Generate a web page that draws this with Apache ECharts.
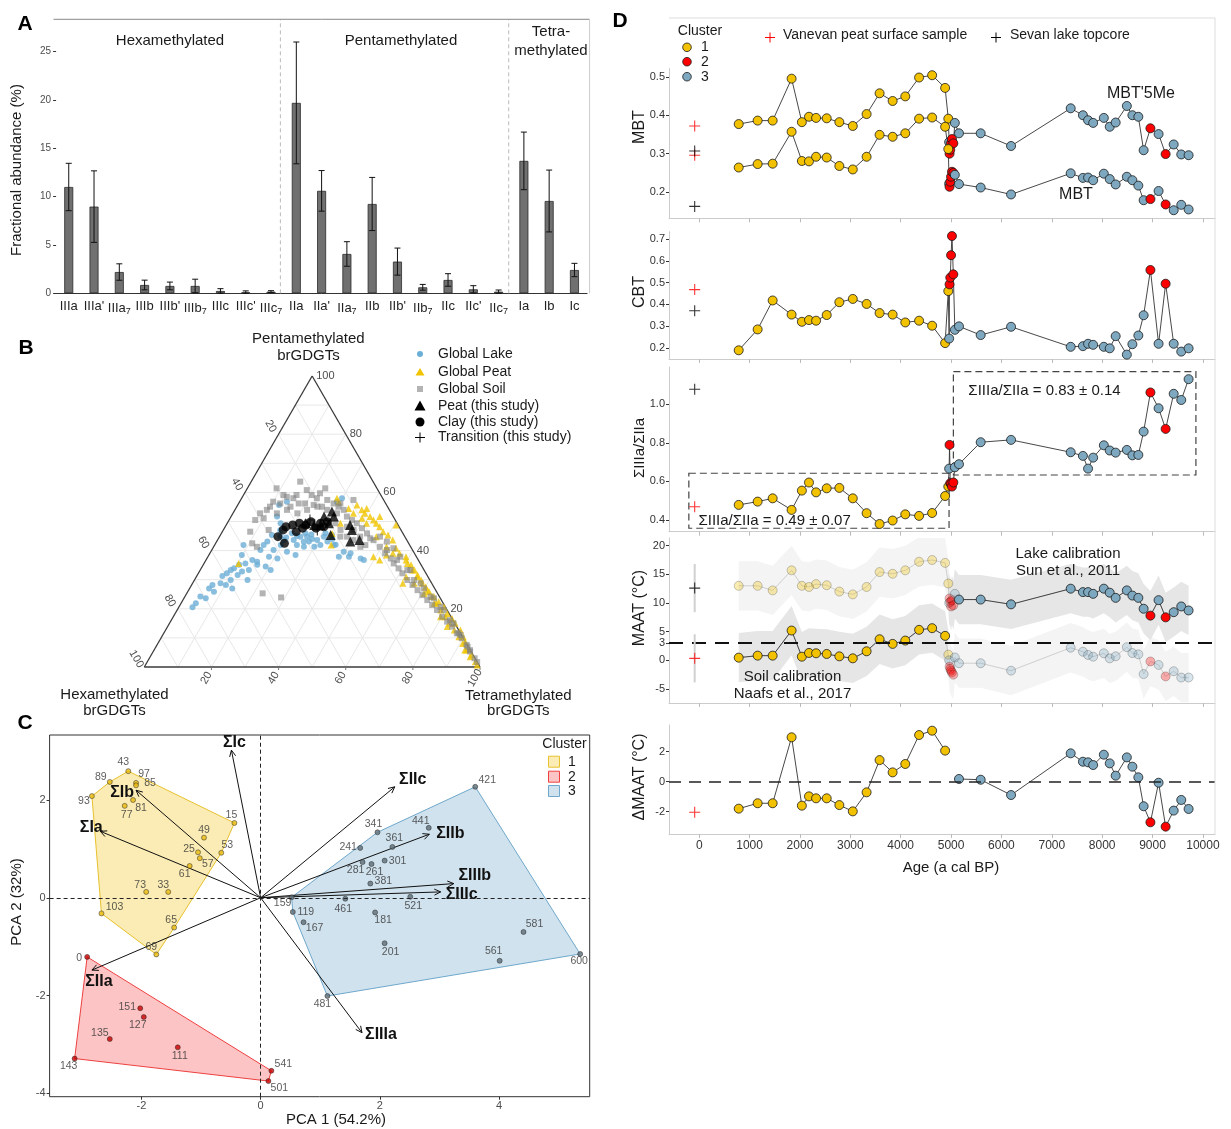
<!DOCTYPE html>
<html>
<head>
<meta charset="utf-8">
<script src="https://cdn.jsdelivr.net/npm/echarts@6.0.0/dist/echarts.min.js"></script>
<style>html,body{margin:0;padding:0;background:#fff;}#chart{width:1231px;height:1129px;}</style>
</head>
<body>
<div id="chart"></div>
<script>
const FONT = "'Liberation Sans', Arial, Helvetica, sans-serif";

// ================= Panel A data =================
const aCategories = ['IIIa',"IIIa'",'IIIa₇','IIIb',"IIIb'",'IIIb₇','IIIc',"IIIc'",'IIIc₇','IIa',"IIa'",'IIa₇','IIb',"IIb'",'IIb₇','IIc',"IIc'",'IIc₇','Ia','Ib','Ic'];
const aMeans = [11.0, 8.97, 2.2, 0.86, 0.76, 0.76, 0.24, 0.1, 0.17, 19.7, 10.6, 4.07, 9.24, 3.28, 0.62, 1.38, 0.41, 0.17, 13.7, 9.55, 2.41];
const aSD    = [2.45, 3.7, 0.85, 0.5, 0.4, 0.7, 0.24, 0.15, 0.1, 6.3, 2.1, 1.27, 2.75, 1.4, 0.3, 0.65, 0.38, 0.17, 2.98, 3.2, 0.69];
const aYTicks = [0, 5, 10, 15, 20, 25];
const aSeparators = [8.87, 17.9];
const A_YMAX = 28.35;

// ================= Panel B data (ternary: [tetra %, penta %]) =================
const bLake = [[4.1,20.5],[4.4,21.9],[4.6,24.2],[5.8,27],[6.2,28.2],[7.6,31.3],[10.2,28.2],[10.8,29.9],[12.7,27],[9.1,33.3],[9.8,33.9],[10.7,35.1],[12.7,32.8],[12.3,35.6],[14.5,33.3],[13.8,36.8],[15.5,36.2],[14.5,40.2],[14.6,41.9],[18.9,34.5],[18.2,37.9],[18.4,40.2],[21,37.3],[19.7,41.9],[19.8,43.6],[22.7,39.6],[25.8,38.5],[24.5,41.9],[26.9,41.3],[27.5,43.1],[30,41.3],[29.7,43.6],[31.5,41.9],[33,43.1],[35.5,41.9],[39,37.9],[39.6,39.6],[42,37.9],[41.9,39.1],[45.8,37.3],[47,36.8],[29.9,58],[29,56.8],[13.7,51.7],[15.9,49.4],[12.3,55.7],[14.1,56.8],[22.7,43.6],[24.1,44.8],[26.1,44.8],[31.1,44.8],[33.2,45.4],[8.6,41.9],[9.8,38.5],[16.1,35.1],[21,33.3],[15.8,29.9],[7.8,25.9],[6.5,23.6],[8.3,28.8],[8.5,32.2],[12,31.6],[15.1,43.1],[15.3,45.4],[21,46],[23,45],[25,46],[27,45.5],[28,44],[26,43],[31,46],[34,44],[36,42],[20,44.5],[17,47],[18,45]];
const bPeat = [[10.3,35.6],[28.4,58],[29.5,56.8],[35.5,55.7],[37.8,54],[39.3,52.8],[41.4,51.7],[43,50.5],[44.4,49.4],[46,48.2],[47.9,46.5],[49.9,45.4],[52.2,43.6],[50.6,48.8],[44.3,51.7],[39,54.5],[49.3,37.9],[51.7,36.8],[52.9,38.5],[54.6,40.8],[62.6,28.8],[56.5,39.1],[59.6,36.8],[61.9,35.1],[63.8,33.3],[65.6,31.6],[67.5,29.9],[70,27.6],[71.9,25.9],[74.2,24.2],[76.5,22.4],[78.9,20.7],[81,18.4],[83.3,16.7],[85.1,15],[87.8,12.7],[89.8,10.4],[91.2,8.7],[93.3,6.4],[95.4,4.1],[97.7,1.8],[98.8,0.7],[60.6,35.6],[63.3,33.3],[65.8,31],[68.4,28.8],[71.1,26.4],[73.6,24.2],[76,21.9],[78.5,19.6],[81,17.3],[83.5,15],[86,12.7],[88.5,10.4],[90.8,8.1],[93,5.8],[51.5,41.3],[54.5,39.1],[59,37.9],[46.7,44.8],[41.5,49.4],[39.3,51.1],[35.9,52.8],[33.6,54.5],[62.5,31],[66,28.8],[70.7,25.3],[75.4,21.9],[79.6,17.3],[83.3,13.9],[92.6,5.8],[95.3,3.5],[34.7,41.9],[33.7,49.4],[33,45.9]];
const bSoil = [[8.7,61.4],[14.6,63.7],[23.2,61.4],[33.6,57.4],[30.3,56.2],[8.1,52.8],[7.8,50.5],[8.3,46.5],[12.9,41.3],[22.6,25.3],[28.8,23.9],[9.9,55.1],[12.4,56.2],[13.2,58.5],[15.4,58],[15.8,59.1],[18,60.8],[20.3,59.1],[22.4,58],[22.5,59.7],[25.8,57.4],[28.3,56.2],[30.3,55.1],[32.4,54],[34.5,51.7],[36.6,50.5],[38.6,49.4],[41,47.7],[43.4,45.9],[45.2,44.2],[44.9,41.9],[43.7,41.3],[40.5,43.6],[38,44.8],[34.9,47.1],[32.2,49.4],[16,55.1],[17.9,56.2],[19.8,56.2],[10,51.1],[13.5,47.1],[10.9,42.5],[10,56.8],[11.9,59.1],[22.6,55.7],[25.4,55.1],[9.5,54],[13.1,52.8],[15.5,54],[19.2,52.8],[21.5,54],[24,55.1],[27.5,54],[31,52.8],[36.3,48.2],[38.8,47.1],[36,44.8],[41.9,44.8],[46.5,43.6],[49.5,41.3],[52.2,39.1],[54.8,37.3],[56.5,35.6],[58.8,33.9],[60.8,32.2],[63.4,29.9],[65.8,28.2],[68.2,26.4],[70.5,24.7],[72.8,23],[75.1,21.3],[77.4,19.6],[80.1,17.3],[82.4,15.6],[84.7,13.9],[87.3,11.6],[89.6,9.9],[92.2,7.6],[94.4,5.3],[96.9,3],[47.8,44.8],[50.7,43.1],[53.8,40.8],[57.3,37.9],[62.6,33.3],[67.9,28.8],[73.2,24.2],[77.9,20.7],[83,16.1],[87.8,11.6],[92.8,7],[52.2,40.2],[56.9,36.8],[61.7,33.3],[65.4,29.9],[69.8,27],[74.5,23.6],[79.4,19.6],[84.6,15],[88.7,11],[94.1,5.8],[98.3,1.7]];
const bStudyPeat = [[29.2,53.4],[27.7,51.7],[30.6,51.7],[30.3,49.4],[28.1,48.8],[36.9,48.8],[38.3,47.1],[32.8,45.4],[39.8,43.1],[42.3,43.6],[26.2,48.8],[23.4,49.4]];
const bStudyClay = [[17.4,44.8],[17.8,47.1],[20.5,42.5],[18.1,48.2],[19.8,48.8],[22,46.5],[21.5,49.4],[23.7,48.8],[24.7,49.9],[27.3,47.7],[27.8,49.4],[29.6,49.9],[29.4,48.2],[23.3,47.7]];
const bStudyTransition = [[24.1,50.5],[28,47.1]];
const bTicks = [20, 40, 60, 80, 100];

// ================= Panel C data (PCA) =================
const cNames = ['43','89','97','85','93','81','77','15','49','53','25','57','61','73','33','103','65','69',
  '0','151','127','135','111','143','541','501',
  '421','341','441','361','241','301','281','261','381','159','461','521','119','167','181','201','581','561','600','481'];
const cX = [-2.22,-2.53,-2.09,-2.09,-2.83,-2.14,-2.28,-0.44,-0.95,-0.66,-1.05,-1.02,-1.19,-1.92,-1.55,-2.67,-1.45,-1.75,
  -2.91,-2.02,-1.96,-2.53,-1.39,-3.12,0.18,0.13,
  3.60,1.96,2.82,2.21,1.67,2.08,1.71,1.86,1.84,0.52,1.42,2.51,0.54,0.72,1.92,2.08,4.41,4.01,5.36,1.12];
const cY = [2.59,2.37,2.35,2.30,2.08,2.00,1.88,1.53,1.23,0.92,0.93,0.81,0.65,0.12,0.12,-0.32,-0.61,-1.16,
  -1.21,-2.26,-2.44,-2.89,-3.06,-3.29,-3.54,-3.75,
  2.27,1.34,1.43,1.04,1.02,0.76,0.73,0.69,0.29,0.01,-0.02,0.02,-0.29,-0.50,-0.30,-0.93,-0.70,-1.29,-1.15,-2.01];
const cCluster = [1,1,1,1,1,1,1,1,1,1,1,1,1,1,1,1,1,1, 2,2,2,2,2,2,2,2, 3,3,3,3,3,3,3,3,3,3,3,3,3,3,3,3,3,3,3,3];
const cVarNames = ['ΣIc','ΣIIc','ΣIb','ΣIa','ΣIIb','ΣIIIb','ΣIIIc','ΣIIa','ΣIIIa'];
const cVarX = [-0.49, 2.25, -2.09, -2.69, 2.83, 3.24, 3.02, -2.83, 1.70];
const cVarY = [3.02, 2.27, 2.20, 1.36, 1.30, 0.29, 0.12, -1.48, -2.76];
const cTicksX = [-2, 0, 2, 4];
const cTicksY = [-4, -2, 0, 2];

// ================= Panel D data (down-core) =================
const dAges = [784,1160,1458,1834,2038,2179,2320,2531,2782,3049,3323,3581,3840,4091,4365,4624,4882,4945,4962,4970,4984,5000,5018,5045,5075,5157,5588,6191,7375,7618,7720,7821,8033,8150,8268,8490,8600,8718,8823,8958,9120,9260,9420,9570,9716];
const dCluster = [1,1,1,1,1,1,1,1,1,1,1,1,1,1,1,1,1, 1, 3, 2,2,2,2,2, 3, 3, 3,3, 3,3,3,3,3,3,3,3,3,3,3, 2, 3, 2, 3,3,3];
const dTransition = [0,0,0,0,0,0,0,0,0,0,0,0,0,0,0,0,0, 1,1,1,1,1,1,1,1, 0,0,0,0,0,0,0,0,0,0,0,0,0,0,0,0,0,0,0,0];
const dMBT5Me = [0.377,0.386,0.386,0.495,0.382,0.396,0.393,0.392,0.382,0.372,0.403,0.457,0.437,0.449,0.498,0.504,0.471, 0.391, 0.330, 0.300,0.310,0.327,0.338,0.327, 0.380, 0.353, 0.353,0.320, 0.418,0.400,0.387,0.380,0.393,0.370,0.381,0.424,0.400,0.396,0.309, 0.366, 0.351, 0.299, 0.324,0.298,0.296];
const dMBT = [0.264,0.273,0.274,0.357,0.281,0.280,0.292,0.290,0.268,0.259,0.292,0.349,0.344,0.353,0.391,0.394,0.370, 0.312, 0.222, 0.214,0.227,0.240,0.253,0.250, 0.245, 0.221, 0.212,0.194, 0.249,0.237,0.238,0.231,0.248,0.234,0.220,0.240,0.231,0.217,0.179, 0.182, 0.203, 0.168, 0.153,0.167,0.155];
const dCBT = [0.189,0.285,0.418,0.353,0.320,0.328,0.325,0.351,0.410,0.425,0.402,0.360,0.353,0.317,0.325,0.302,0.222, 0.461, 0.243, 0.492,0.523,0.626,0.714,0.538, 0.283, 0.299, 0.259,0.297, 0.205,0.208,0.219,0.214,0.205,0.198,0.254,0.169,0.217,0.257,0.350, 0.558, 0.219, 0.495, 0.219,0.183,0.198];
const dRatio = [0.478,0.495,0.512,0.452,0.552,0.594,0.543,0.564,0.566,0.512,0.435,0.379,0.397,0.429,0.421,0.436,0.524, 0.573, 0.666, 0.789,0.590,0.587,0.573,0.594, 0.673, 0.689, 0.803,0.815, 0.751,0.732,0.666,0.723,0.787,0.760,0.749,0.763,0.735,0.737,0.858, 1.061, 0.979, 0.872, 1.054,1.022,1.130];
const dMaatSoil = [0.47,0.82,0.82,5.2,0.64,1.29,1.23,1.11,0.70,0.35,1.58,3.68,2.87,3.45,5.32,5.61,4.27, 1.0, 0.0, -1.1,-1.5,-1.8,-2.1,-2.5, 0.5, -0.5, -0.5,-1.8, 2.2,1.5,0.94,0.64,1.23,0.35,0.70,2.3,1.27,1.05,-2.4, -0.2, -0.8, -2.8, -1.9,-3.0,-3.0];
const dMaatLake = [13.0,13.0,12.2,15.7,13.0,12.8,13.3,13.1,12.0,11.5,12.8,15.4,15.1,15.7,17.2,17.5,17.0, 13.4, 10.0, 10.8,10.2,9.4,10.5,9.6, 11.6, 10.6, 10.6,9.77, 12.5,11.9,11.9,11.6,12.5,11.8,10.9,12.2,11.3,10.9,9.0, 7.8, 10.5, 7.5, 8.4,9.4,8.7];
const dDeltaMaat = [-1.8,-1.44,-1.44,2.96,-1.6,-0.98,-1.11,-1.11,-1.56,-1.98,-0.71,1.44,0.62,1.18,3.11,3.4,2.07, null,null,null,null,null,null,null,null, 0.18, 0.13,-0.89, 1.89,1.33,1.29,1.11,1.8,1.22,0.4,1.62,1.0,0.29,-1.64, -2.71, -0.07, -3.0, -1.93,-1.22,-1.82];
const dSoilErr = 4.3;
const dLakeErr = 4.3;
const refAge = -90;
const vanevanMBT5Me = 0.372, vanevanMBT = 0.296, vanevanCBT = 0.468, vanevanRatio = 0.468, vanevanMAAT = 0.35, vanevanDMAAT = -2.04;
const sevanMBT5Me = 0.307, sevanMBT = 0.163, sevanCBT = 0.371, sevanRatio = 1.078, sevanMAAT = 12.6;
const refMaatErr = 4.2;
const ratioBoxX0 = [-206, 5046], ratioBoxX1 = [4960, 9861];
const ratioBoxY0 = [0.357, 0.633], ratioBoxY1 = [0.642, 1.169];
const dXTicks = [0,1000,2000,3000,4000,5000,6000,7000,8000,9000,10000];

// ================= helpers =================
const D_COL = {1:'#F2C200', 2:'#FF0000', 3:'#7DA8BF'};
const C_PT = {1:'#E9B90E', 2:'#C80000', 3:'#5E6E78'};
const C_FILL = {1:'rgba(240,200,40,0.35)', 2:'rgba(245,70,70,0.32)', 3:'rgba(110,165,200,0.32)'};
const C_STROKE = {1:'#E8C12E', 2:'#EE4040', 3:'#6FA8CC'};
const PLUS = 'path://M4.5,0L5.5,0L5.5,4.5L10,4.5L10,5.5L5.5,5.5L5.5,10L4.5,10L4.5,5.5L0,5.5L0,4.5L4.5,4.5Z';
const cLabelOffset = {'43':[-5,-9],'89':[-9,-5],'97':[8,-9],'85':[14,-2],'93':[-8,5],'81':[8,8],'77':[2,9],'15':[-3,-8],'49':[0,-8],'53':[6,-8],'25':[-9,-3],'57':[8,6],'61':[-5,8],'73':[-6,-7],'33':[-5,-7],'103':[13,-6],'65':[-3,-7],'69':[-5,-7],'0':[-8,1],'151':[-13,-1],'127':[-6,8],'135':[-10,-6],'111':[2,9],'143':[-6,8],'541':[12,-7],'501':[11,7],'421':[12,-7],'341':[-4,-8],'441':[-8,-7],'361':[2,-9],'241':[-12,-1],'301':[13,0],'281':[-7,8],'261':[3,8],'381':[13,-2],'159':[-9,6],'461':[-2,10],'521':[3,9],'119':[13,0],'167':[11,6],'181':[8,8],'201':[6,9],'581':[11,-8],'561':[-6,-10],'600':[-1,7],'481':[-5,8]};
const cVarLabelOffset = {'ΣIc':[3,-8],'ΣIIc':[18,-7],'ΣIb':[-14,2],'ΣIa':[-9,-4],'ΣIIb':[21,-1],'ΣIIIb':[21,-8],'ΣIIIc':[21,3],'ΣIIa':[7,11],'ΣIIIa':[19,2]};

function tern(tp){ return [tp[0]/100 + tp[1]/200, tp[1]/100]; }
function convexHull(points){
  const p = points.slice().sort((a,b)=>a[0]-b[0]||a[1]-b[1]);
  const cross=(o,a,b)=>(a[0]-o[0])*(b[1]-o[1])-(a[1]-o[1])*(b[0]-o[0]);
  const lower=[]; for(const q of p){ while(lower.length>=2 && cross(lower[lower.length-2], lower[lower.length-1], q)<=0) lower.pop(); lower.push(q); }
  const upper=[]; for(let i=p.length-1;i>=0;i--){ const q=p[i]; while(upper.length>=2 && cross(upper[upper.length-2], upper[upper.length-1], q)<=0) upper.pop(); upper.push(q); }
  upper.pop(); lower.pop(); return lower.concat(upper);
}
function txt(text, x, y, rot, align, size, color, weight){
  return {type:'text', x, y, rotation: rot||0, silent:true,
    style:{text, fill: color||'#4d4d4d', fontSize: size||11, fontFamily: FONT, fontWeight: weight||'normal',
      align: align||'center', verticalAlign:'middle', textAlign: align||'center', textVerticalAlign:'middle'}};
}

// ================= grids =================
const gridBase = {containLabel:false, outerBoundsMode:'none', show:false};
const grids = [
  {left:56.1, top:19.3, width:531, height:274},        // A
  {left:144.3, top:376, width:335.7, height:291},      // B
  {left:49.6, top:735, width:540.1, height:361.7, show:true, borderColor:'#333', borderWidth:1, backgroundColor:'transparent'}, // C
  {left:669, top:68.3, width:546, height:150},         // D1
  {left:669, top:231.7, width:546, height:127.3},      // D2
  {left:669, top:367, width:546, height:164.7},        // D3
  {left:669, top:538, width:546, height:165},          // D4
  {left:669, top:725, width:546, height:109}           // D5
].map(g => Object.assign({}, gridBase, g));

// ================= axes =================
function dX(gi, labels){
  return {gridIndex:gi, type:'value', min:-600, max:10240, splitLine:{show:false},
    axisLine:{show:true, onZero:false, lineStyle:{color:'#cccccc', width:1}},
    axisTick:{show:true, customValues:dXTicks, length:4, lineStyle:{color:'#bbbbbb'}},
    axisLabel:{show:labels, customValues:dXTicks, color:'#333', fontSize:12, margin:6, fontFamily:FONT,
      formatter: v => String(Math.round(v))}};
}
function dY(gi, min, max, ticks, dec){
  return {gridIndex:gi, type:'value', min, max, splitLine:{show:false},
    axisLine:{show:true, onZero:false, lineStyle:{color:'#cccccc', width:1}},
    axisTick:{show:true, customValues:ticks, length:3, lineStyle:{color:'#333'}},
    axisLabel:{customValues:ticks, color:'#333', fontSize:11, margin:4, fontFamily:FONT,
      formatter: v => dec ? Number(v).toFixed(dec) : String(v)}};
}
const xAxes = [
  {gridIndex:0, type:'category', data:aCategories, boundaryGap:true,
    axisLine:{show:true, onZero:false, lineStyle:{color:'#333', width:1}}, axisTick:{show:false},
    axisLabel:{interval:0, color:'#222', fontSize:13, margin:7, fontFamily:FONT,
      formatter: v => v.indexOf('₇')>=0 ? v.replace('₇','') + '{s|7}' : v,
      rich:{s:{fontSize:9, color:'#222', fontFamily:FONT, padding:[7,0,0,0]}}}},
  {gridIndex:0, type:'value', min:0, max:21, show:false},
  {gridIndex:1, type:'value', min:0, max:1, show:false},
  {gridIndex:2, type:'value', min:-3.54, max:5.52, splitLine:{show:false},
    axisLine:{show:false, onZero:false},
    axisTick:{show:true, customValues:cTicksX, length:3, lineStyle:{color:'#333'}},
    axisLabel:{customValues:cTicksX, color:'#4d4d4d', fontSize:11, margin:4, fontFamily:FONT}},
  dX(3,false), dX(4,false), dX(5,false), dX(6,false), dX(7,true)
];
const yAxes = [
  {gridIndex:0, type:'value', min:0, max:A_YMAX, splitLine:{show:false},
    axisLine:{show:false, onZero:false},
    axisTick:{show:true, customValues:aYTicks, length:3, lineStyle:{color:'#333'}},
    axisLabel:{customValues:aYTicks, color:'#4d4d4d', fontSize:10, margin:5, fontFamily:FONT}},
  {gridIndex:1, type:'value', min:0, max:1, show:false},
  {gridIndex:2, type:'value', min:-4.07, max:3.33, splitLine:{show:false},
    axisLine:{show:false, onZero:false},
    axisTick:{show:true, customValues:cTicksY, length:3, lineStyle:{color:'#333'}},
    axisLabel:{customValues:cTicksY, color:'#4d4d4d', fontSize:11, margin:4, fontFamily:FONT}},
  dY(3, 0.132, 0.522, [0.2,0.3,0.4,0.5], 1),
  dY(4, 0.149, 0.734, [0.2,0.3,0.4,0.5,0.6,0.7], 1),
  dY(5, 0.339, 1.193, [0.4,0.6,0.8,1.0], 1),
  dY(6, -7.44, 21.34, [-5,0,3,5,10,15,20], 0),
  dY(7, -3.49, 3.78, [-2,0,2], 0)
];

// ================= series =================
const series = [];

// ---- A ----
series.push({type:'bar', xAxisIndex:0, yAxisIndex:0, data:aMeans, barWidth:9, silent:true,
  itemStyle:{color:'#707070', borderColor:'#2b2b2b', borderWidth:0.8}, z:2});
series.push({type:'custom', xAxisIndex:0, yAxisIndex:0, silent:true, z:3,
  data: aMeans.map((m,i)=>[i, m, aSD[i]]), encode:{x:0, y:1},
  renderItem:(params, api)=>{
    const i=api.value(0), m=api.value(1), s=api.value(2);
    const top=api.coord([i, m+s]); const bot=api.coord([i, Math.max(0, m-s)]);
    const w=3; const st={stroke:'#111', lineWidth:1};
    return {type:'group', children:[
      {type:'line', shape:{x1:top[0],y1:top[1],x2:bot[0],y2:bot[1]}, style:st},
      {type:'line', shape:{x1:top[0]-w,y1:top[1],x2:top[0]+w,y2:top[1]}, style:st},
      {type:'line', shape:{x1:bot[0]-w,y1:bot[1],x2:bot[0]+w,y2:bot[1]}, style:st}]};
  }});
series.push({type:'custom', xAxisIndex:1, yAxisIndex:0, silent:true, z:1,
  data: aSeparators.map(v=>[v, 0]),
  renderItem:(params, api)=>{
    const a=api.coord([api.value(0), 0]); const b=api.coord([api.value(0), A_YMAX]);
    return {type:'line', shape:{x1:a[0],y1:a[1],x2:b[0],y2:b[1]}, style:{stroke:'#bbbbbb', lineWidth:1, lineDash:[4,3]}};
  }});

// ---- B (ternary) ----
series.push({type:'custom', xAxisIndex:2, yAxisIndex:1, silent:true, z:1, data:[[0,0]],
  renderItem:(params, api)=>{
    const ch=[]; const C=p=>api.coord(p);
    const line=(a,b,st)=>ch.push({type:'line', shape:{x1:a[0],y1:a[1],x2:b[0],y2:b[1]}, style:st});
    const gst={stroke:'#e8e8e8', lineWidth:1};
    for(let k=1;k<10;k++){ const f=k/10;
      line(C([f/2,f]), C([1-f/2,f]), gst);
      line(C([f,0]), C([f+(1-f)/2,1-f]), gst);
      line(C([1-f,0]), C([(1-f)/2,1-f]), gst);
    }
    const bst={stroke:'#3a3a3a', lineWidth:1.3};
    line(C([0,0]),C([1,0]),bst); line(C([1,0]),C([0.5,1]),bst); line(C([0.5,1]),C([0,0]),bst);
    bTicks.forEach(t=>{ const f=t/100;
      const pb=C([f,0]); ch.push(txt(String(t), pb[0]-5, pb[1]+11, Math.PI/3, 'center'));
      ch.push({type:'line', shape:{x1:pb[0],y1:pb[1],x2:pb[0],y2:pb[1]+3}, style:{stroke:'#777', lineWidth:1}});
      const pl=C([(1-f)/2,1-f]); ch.push(txt(String(t), pl[0]-8, pl[1]-8, -Math.PI/3, 'center'));
      const pr=C([1-f/2,f]); ch.push(txt(String(t), pr[0]+4, pr[1], 0, 'left'));
    });
    return {type:'group', children:ch};
  }});
series.push({type:'scatter', xAxisIndex:2, yAxisIndex:1, silent:true, z:2, data:bLake.map(tern), symbol:'circle', symbolSize:6, itemStyle:{color:'#6BAED6'}});
series.push({type:'scatter', xAxisIndex:2, yAxisIndex:1, silent:true, z:2, data:bPeat.map(tern), symbol:'triangle', symbolSize:7, itemStyle:{color:'#F0C400'}});
series.push({type:'scatter', xAxisIndex:2, yAxisIndex:1, silent:true, z:2, data:bSoil.map(tern), symbol:'rect', symbolSize:6, itemStyle:{color:'#808080', opacity:0.6}});
series.push({type:'scatter', xAxisIndex:2, yAxisIndex:1, silent:true, z:3, data:bStudyPeat.map(tern), symbol:'triangle', symbolSize:10, itemStyle:{color:'#000'}});
series.push({type:'scatter', xAxisIndex:2, yAxisIndex:1, silent:true, z:3, data:bStudyClay.map(tern), symbol:'circle', symbolSize:9, itemStyle:{color:'#000'}});
series.push({type:'scatter', xAxisIndex:2, yAxisIndex:1, silent:true, z:3, data:bStudyTransition.map(tern), symbol:PLUS, symbolSize:11, itemStyle:{color:'#000'}});

// ---- C (PCA) ----
series.push({type:'custom', xAxisIndex:3, yAxisIndex:2, silent:true, z:1, data:[[1,0],[2,0],[3,0]],
  renderItem:(params, api)=>{
    const cl=api.value(0); const pts=[];
    cX.forEach((x,i)=>{ if(cCluster[i]===cl) pts.push([x, cY[i]]); });
    const hull=convexHull(pts).map(p=>api.coord(p));
    return {type:'polygon', shape:{points:hull}, style:{fill:C_FILL[cl], stroke:C_STROKE[cl], lineWidth:1}};
  }});
series.push({type:'line', xAxisIndex:3, yAxisIndex:2, silent:true, z:2, data:[[0,0]], showSymbol:false, symbol:'none', lineStyle:{opacity:0},
  markLine:{silent:true, symbol:'none', animation:false, label:{show:false}, lineStyle:{type:[4,3], color:'#222', width:1}, data:[{xAxis:0},{yAxis:0}]}});
series.push({type:'custom', xAxisIndex:3, yAxisIndex:2, silent:true, z:3, data: cVarX.map((x,i)=>[x, cVarY[i]]),
  renderItem:(params, api)=>{
    const o=api.coord([0,0]); const t=api.coord([api.value(0), api.value(1)]);
    const ang=Math.atan2(t[1]-o[1], t[0]-o[0]); const L=7, a=Math.PI/7;
    const p1=[t[0]-L*Math.cos(ang-a), t[1]-L*Math.sin(ang-a)];
    const p2=[t[0]-L*Math.cos(ang+a), t[1]-L*Math.sin(ang+a)];
    const name=cVarNames[params.dataIndex]; const off=cVarLabelOffset[name]||[0,0];
    return {type:'group', children:[
      {type:'line', shape:{x1:o[0],y1:o[1],x2:t[0],y2:t[1]}, style:{stroke:'#111', lineWidth:1}},
      {type:'polyline', shape:{points:[p1,t,p2]}, style:{stroke:'#111', lineWidth:1, fill:null}},
      txt(name, t[0]+off[0], t[1]+off[1], 0, 'center', 16, '#111', 'bold')]};
  }});
series.push({type:'scatter', xAxisIndex:3, yAxisIndex:2, silent:true, z:4, symbolSize:5,
  data: cNames.map((n,i)=>({value:[cX[i], cY[i]], name:n, itemStyle:{color:C_PT[cCluster[i]]}, label:{offset:cLabelOffset[n]||[0,-8]}})),
  itemStyle:{borderColor:'#222', borderWidth:0.6},
  label:{show:true, position:'inside', formatter:p=>p.name, color:'#333', fontSize:10.5, fontFamily:FONT}});

// ---- D ----
function dPts(vals, keep){ const out=[]; dAges.forEach((a,i)=>{ if(vals[i]!=null && (!keep||keep(i))) out.push([a, vals[i], dCluster[i]]); }); return out; }
function dLineData(vals, keep){ return dAges.map((a,i)=>[a, (vals[i]!=null && (!keep||keep(i))) ? vals[i] : '-']); }
function dLine(xi, yi, vals, keep, color, z){ return {type:'line', xAxisIndex:xi, yAxisIndex:yi, data:dLineData(vals, keep), showSymbol:false, symbol:'none', connectNulls:false, silent:true, z:z||3, lineStyle:{color:color||'#333', width:0.9}}; }
function dScatter(xi, yi, vals, keep, opacity, z){ return {type:'scatter', xAxisIndex:xi, yAxisIndex:yi, data:dPts(vals, keep), symbolSize:9, silent:true, z:z||4,
  itemStyle:{color:p=>D_COL[p.data[2]], borderColor:'#1a1a1a', borderWidth:0.8, opacity:opacity==null?1:opacity}}; }
function dCross(xi, yi, val, color){ return {type:'scatter', xAxisIndex:xi, yAxisIndex:yi, data:[[refAge, val]], symbol:PLUS, symbolSize:11, silent:true, z:6, itemStyle:{color}}; }
function band(i0, i1, vals, err, color){
  const pts=[]; for(let i=i0;i<=i1;i++) pts.push([dAges[i], vals[i]-err, vals[i]+err]);
  return {type:'custom', xAxisIndex:7, yAxisIndex:6, silent:true, clip:true, z:1, data:[[pts[0][0], pts[0][1]]],
    renderItem:(params, api)=>{
      const up=pts.map(p=>api.coord([p[0],p[2]])); const lo=pts.map(p=>api.coord([p[0],p[1]])).reverse();
      return {type:'polygon', shape:{points:up.concat(lo)}, style:{fill:color}};
    }};
}

// D1 MBT
series.push(dLine(4,3,dMBT5Me)); series.push(dLine(4,3,dMBT));
series.push(dScatter(4,3,dMBT5Me)); series.push(dScatter(4,3,dMBT));
series.push(dCross(4,3,vanevanMBT5Me,'#FF0000')); series.push(dCross(4,3,vanevanMBT,'#FF0000'));
series.push(dCross(4,3,sevanMBT5Me,'#000')); series.push(dCross(4,3,sevanMBT,'#000'));
// D2 CBT
series.push(dLine(5,4,dCBT)); series.push(dScatter(5,4,dCBT));
series.push(dCross(5,4,vanevanCBT,'#FF0000')); series.push(dCross(5,4,sevanCBT,'#000'));
// D3 ratio
series.push({type:'custom', xAxisIndex:6, yAxisIndex:5, silent:true, z:2,
  data: ratioBoxX0.map((x,i)=>[x, ratioBoxY0[i], ratioBoxX1[i], ratioBoxY1[i]]),
  renderItem:(params, api)=>{
    const p0=api.coord([api.value(0), api.value(3)]); const p1=api.coord([api.value(2), api.value(1)]);
    return {type:'rect', shape:{x:p0[0], y:p0[1], width:p1[0]-p0[0], height:p1[1]-p0[1]}, style:{fill:null, stroke:'#444', lineWidth:1.2, lineDash:[7,4]}};
  }});
series.push(dLine(6,5,dRatio)); series.push(dScatter(6,5,dRatio));
series.push(dCross(6,5,vanevanRatio,'#FF0000')); series.push(dCross(6,5,sevanRatio,'#000'));
// D4 MAAT
const soilBold = i => dCluster[i]===1 && !dTransition[i];
const lakeBold = i => dCluster[i]!==1 && !dTransition[i];
series.push(band(0, 17, dMaatSoil, dSoilErr, '#e6e6e6'));
series.push(band(17, 44, dMaatSoil, dSoilErr, '#f4f4f4'));
series.push(band(0, 17, dMaatLake, dLakeErr, '#f4f4f4'));
series.push(band(17, 44, dMaatLake, dLakeErr, '#e6e6e6'));
series.push(dLine(7,6,dMaatSoil,null,'#c9c9c9',2)); series.push(dLine(7,6,dMaatLake,null,'#c9c9c9',2));
series.push(dScatter(7,6,dMaatSoil,i=>!soilBold(i),0.3,2)); series.push(dScatter(7,6,dMaatLake,i=>!lakeBold(i),0.3,2));
series.push({type:'line', xAxisIndex:7, yAxisIndex:6, silent:true, z:3, data:[[0,3]], showSymbol:false, symbol:'none', lineStyle:{opacity:0},
  markLine:{silent:true, symbol:'none', animation:false, label:{show:false}, lineStyle:{type:[14,9], color:'#111', width:2}, data:[{yAxis:3}]}});
series.push(dLine(7,6,dMaatSoil,soilBold)); series.push(dLine(7,6,dMaatLake,lakeBold));
series.push(dScatter(7,6,dMaatSoil,soilBold)); series.push(dScatter(7,6,dMaatLake,lakeBold));
series.push({type:'line', xAxisIndex:7, yAxisIndex:6, silent:true, z:5, showSymbol:false, symbol:'none', lineStyle:{color:'#d0d0d0', width:2},
  data:[[refAge, sevanMAAT-refMaatErr],[refAge, sevanMAAT+refMaatErr]]});
series.push({type:'line', xAxisIndex:7, yAxisIndex:6, silent:true, z:5, showSymbol:false, symbol:'none', lineStyle:{color:'#d0d0d0', width:2},
  data:[[refAge, vanevanMAAT-refMaatErr],[refAge, vanevanMAAT+refMaatErr]]});
series.push(dCross(7,6,vanevanMAAT,'#FF0000')); series.push(dCross(7,6,sevanMAAT,'#000'));
// D5 dMAAT
series.push({type:'line', xAxisIndex:8, yAxisIndex:7, silent:true, z:2, data:[[0,0]], showSymbol:false, symbol:'none', lineStyle:{opacity:0},
  markLine:{silent:true, symbol:'none', animation:false, label:{show:false}, lineStyle:{type:[12,8], color:'#222', width:1.5}, data:[{yAxis:0}]}});
series.push(dLine(8,7,dDeltaMaat)); series.push(dScatter(8,7,dDeltaMaat));
series.push(dCross(8,7,vanevanDMAAT,'#FF0000'));

// ================= graphics (text & decorations) =================
const G = [];
function gT(text, x, y, o){ o=o||{}; G.push({type:'text', x, y, rotation:o.rot||0, silent:true, z:50,
  style:{text, fill:o.color||'#1a1a1a', fontSize:o.size||15, fontFamily:FONT, fontWeight:o.weight||'normal',
    align:o.align||'center', verticalAlign:'middle', textAlign:o.align||'center', textVerticalAlign:'middle'}}); }
function gL(x1,y1,x2,y2,color,w,dash){ G.push({type:'line', silent:true, z:50, shape:{x1,y1,x2,y2}, style:{stroke:color, lineWidth:w||1, lineDash:dash||null}}); }
function gPlus(x,y,color){ gL(x-5,y,x+5,y,color,1); gL(x,y-5,x,y+5,color,1); }

// panel letters
gT('A', 25, 24, {size:21, weight:'bold', color:'#000'});
gT('B', 26, 348, {size:21, weight:'bold', color:'#000'});
gT('C', 25, 723, {size:21, weight:'bold', color:'#000'});
gT('D', 620, 21, {size:21, weight:'bold', color:'#000'});

// A decorations
gL(53.5,19.3,589.6,19.3,'#888',1);
gL(589.6,19.3,589.6,293.3,'#cccccc',1);
gT('Hexamethylated', 170, 40.7);
gT('Pentamethylated', 401, 40.7);
gT('Tetra-', 551, 31.7);
gT('methylated', 551, 50.7);
gT('Fractional abundance (%)', 17, 170, {rot:Math.PI/2});

// B titles & legend
gT('Pentamethylated', 308.4, 339.3); gT('brGDGTs', 308.4, 355.5);
gT('Hexamethylated', 114.5, 695); gT('brGDGTs', 114.5, 710.5);
gT('Tetramethylated', 518.3, 696); gT('brGDGTs', 518.3, 710.5);
const bLegY = [354, 372, 389, 406, 422, 437.5];
const bLegText = ['Global Lake','Global Peat','Global Soil','Peat (this study)','Clay (this study)','Transition (this study)'];
bLegText.forEach((t,i)=>gT(t, 438, bLegY[i], {align:'left', size:14}));
G.push({type:'circle', silent:true, z:50, shape:{cx:420, cy:bLegY[0], r:3}, style:{fill:'#6BAED6'}});
G.push({type:'polygon', silent:true, z:50, shape:{points:[[420,bLegY[1]-4],[424.5,bLegY[1]+3.5],[415.5,bLegY[1]+3.5]]}, style:{fill:'#F0C400'}});
G.push({type:'rect', silent:true, z:50, shape:{x:417, y:bLegY[2]-3, width:6, height:6}, style:{fill:'#b3b3b3'}});
G.push({type:'polygon', silent:true, z:50, shape:{points:[[420,bLegY[3]-5.5],[425.5,bLegY[3]+4.5],[414.5,bLegY[3]+4.5]]}, style:{fill:'#000'}});
G.push({type:'circle', silent:true, z:50, shape:{cx:420, cy:bLegY[4], r:4.5}, style:{fill:'#000'}});
gPlus(420, bLegY[5], '#000');

// C titles & legend
gT('PCA 1 (54.2%)', 336, 1120);
gT('PCA 2 (32%)', 17, 902, {rot:Math.PI/2});
gT('Cluster', 564.5, 744, {size:14});
[1,2,3].forEach((k,i)=>{ const y=[761.7,776.7,791][i];
  G.push({type:'rect', silent:true, z:50, shape:{x:548.5, y:y-5.5, width:11, height:11}, style:{fill:C_FILL[k], stroke:C_STROKE[k], lineWidth:1}});
  gT(String(k), 568, y, {align:'left', size:14}); });

// D borders, titles, legend, annotations
gL(669,18,1215,18,'#dddddd',1);
gL(1215,18,1215,834,'#dddddd',1);
gT('MBT', 640, 127, {rot:Math.PI/2, size:16});
gT('CBT', 640, 292, {rot:Math.PI/2, size:16});
gT('ΣIIIa/ΣIIa', 640, 448, {rot:Math.PI/2, size:15});
gT('MAAT (°C)', 640, 608, {rot:Math.PI/2, size:16});
gT('ΔMAAT (°C)', 640, 777, {rot:Math.PI/2, size:16});
gT('Age (a cal BP)', 951, 868, {size:15});
gT('Cluster', 700, 31, {size:14});
[1,2,3].forEach((k,i)=>{ const y=[47.3,61.7,76.7][i];
  G.push({type:'circle', silent:true, z:50, shape:{cx:687, cy:y, r:4.3}, style:{fill:D_COL[k], stroke:'#1a1a1a', lineWidth:0.8}});
  gT(String(k), 701, y, {align:'left', size:14}); });
gPlus(770, 37.5, '#FF0000');
gT('Vanevan peat surface sample', 783, 35, {align:'left', size:14});
gPlus(996, 37.5, '#000');
gT('Sevan lake topcore', 1010, 35, {align:'left', size:14});
gT("MBT'5Me", 1141, 94, {size:16});
gT('MBT', 1076, 195, {size:16});
gT('ΣIIIa/ΣIIa = 0.49 ± 0.07', 774.6, 520.7, {size:15});
gT('ΣIIIa/ΣIIa = 0.83 ± 0.14', 1044.5, 390.7, {size:15});
gT('Lake calibration', 1068, 554, {size:15});
gT('Sun et al., 2011', 1068, 571, {size:15});
gT('Soil calibration', 792.5, 677, {size:15});
gT('Naafs et al., 2017', 792.5, 693.5, {size:15});

const chart = echarts.init(document.getElementById('chart'), null, {renderer:'canvas', width:1231, height:1129});
chart.setOption({
  animation:false,
  backgroundColor:'#ffffff',
  textStyle:{fontFamily:FONT},
  grid: grids,
  xAxis: xAxes,
  yAxis: yAxes,
  series: series,
  graphic: {elements: G}
});
</script>
</body>
</html>
